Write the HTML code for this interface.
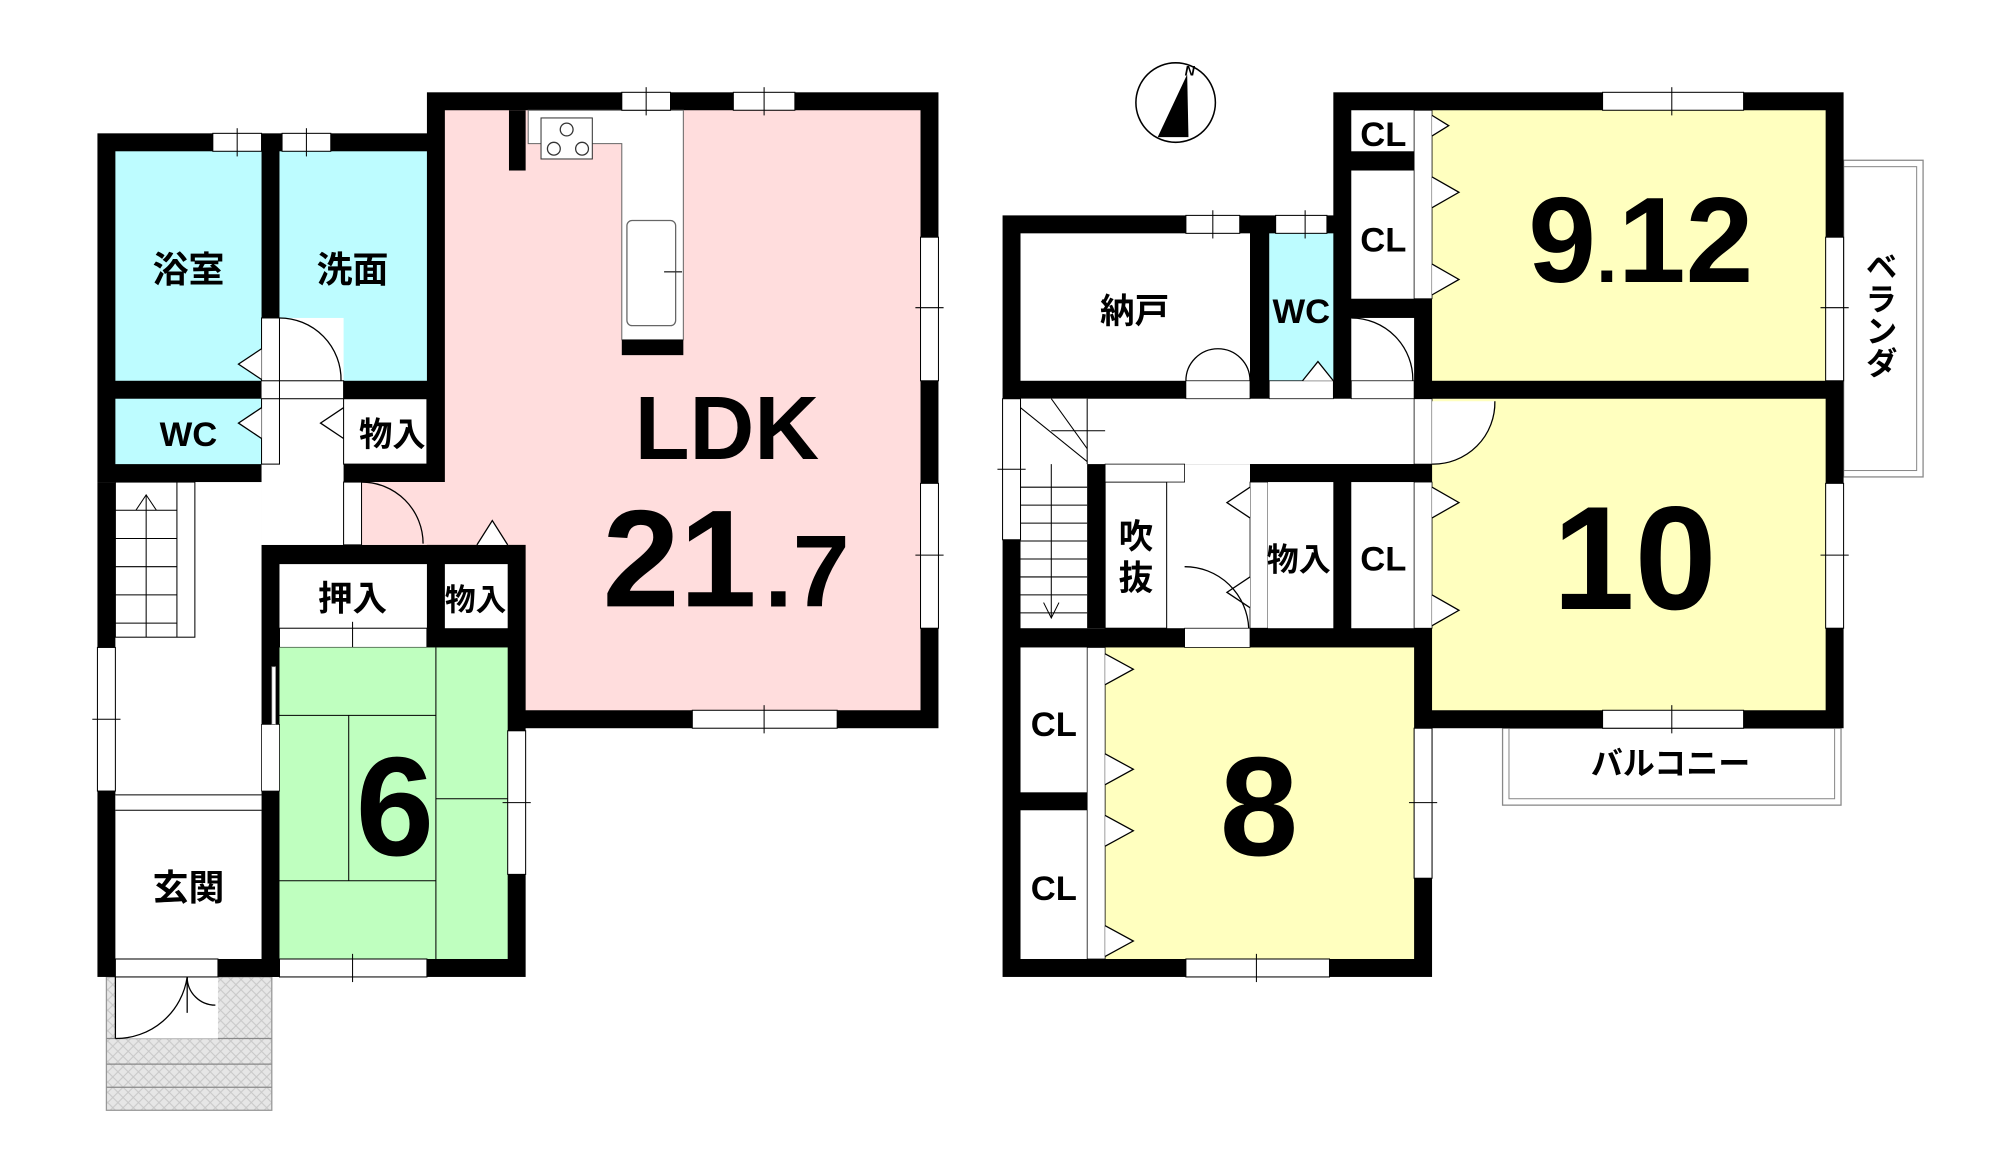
<!DOCTYPE html>
<html><head><meta charset="utf-8">
<style>
html,body{margin:0;padding:0;background:#fff;}
svg{display:block;}
text{font-family:"Liberation Sans","Noto Sans CJK JP",sans-serif;font-weight:bold;fill:#000;}
</style></head><body>
<svg width="2000" height="1159" viewBox="0 0 1560 904" preserveAspectRatio="none" xmlns="http://www.w3.org/2000/svg">
<defs>
<pattern id="hat" width="8" height="8" patternUnits="userSpaceOnUse">
<rect width="8" height="8" fill="#e6e6e6"/>
<path d="M0 0L8 8M8 0L0 8" stroke="#c8c8c8" stroke-width="0.8"/>
</pattern>
</defs>

<rect x="83" y="762" width="129" height="104" fill="url(#hat)" stroke="#999" stroke-width="1"/>
<line x1="83" y1="810" x2="212" y2="810" stroke="#888"/>
<line x1="83" y1="830" x2="212" y2="830" stroke="#888"/>
<line x1="83" y1="848" x2="212" y2="848" stroke="#888"/>
<rect x="90" y="762" width="80" height="48" fill="#fff"/>
<path d="M90 810 A56 56 0 0 0 146 762" fill="none" stroke="#000"/>
<line x1="90" y1="762" x2="90" y2="810" stroke="#000"/>
<path d="M146 762 A22 22 0 0 0 168 784" fill="none" stroke="#000"/>
<line x1="146" y1="762" x2="146" y2="790" stroke="#000"/>

<rect x="76" y="104" width="271" height="272" fill="#000"/>
<rect x="76" y="376" width="142" height="386" fill="#000"/>
<rect x="204" y="425" width="206" height="337" fill="#000"/>
<rect x="333" y="72" width="399" height="496" fill="#000"/>

<rect x="90" y="118" width="114" height="179" fill="#bdfcff"/>
<rect x="218" y="118" width="115" height="179" fill="#bdfcff"/>
<rect x="90" y="311" width="114" height="51" fill="#bdfcff"/>
<rect x="204" y="297" width="64" height="128" fill="#fff"/>
<rect x="218" y="248" width="50" height="49" fill="#fff"/>
<rect x="204" y="248" width="14" height="49" fill="#fff" stroke="#000" stroke-width="0.8"/>
<rect x="204" y="311" width="14" height="51" fill="#fff" stroke="#000" stroke-width="0.8"/>
<rect x="218" y="297" width="50" height="14" fill="#fff" stroke="#000" stroke-width="0.8"/>
<path d="M218 248 A48 48 0 0 1 266 297" fill="none" stroke="#000"/>
<path d="M204 272 L186 284 L204 296" fill="#fff" stroke="#000"/>
<path d="M204 318 L186 330 L204 342" fill="#fff" stroke="#000"/>
<path d="M268 318 L250 330 L268 342" fill="#fff" stroke="#000"/>
<rect x="268" y="311" width="65" height="51" fill="#fff" stroke="#000" stroke-width="0.8"/>
<rect x="90" y="376" width="114" height="256" fill="#fff"/>
<rect x="204" y="376" width="14" height="49" fill="#fff"/>
<rect x="90" y="376" width="62" height="121" fill="#fff" stroke="#000" stroke-width="0.8"/>
<line x1="138" y1="376" x2="138" y2="497" stroke="#000" stroke-width="0.8"/>
<g stroke="#000" stroke-width="0.8">
<line x1="90" y1="398" x2="138" y2="398"/><line x1="90" y1="420" x2="138" y2="420"/>
<line x1="90" y1="442" x2="138" y2="442"/><line x1="90" y1="464" x2="138" y2="464"/>
<line x1="90" y1="486" x2="138" y2="486"/>
<line x1="114" y1="386" x2="114" y2="497"/><path d="M106 398 L114 386 L122 398" fill="none"/>
</g>
<polygon points="347,86 718,86 718,554 410,554 410,425 282,425 282,376 347,376" fill="#ffdddd"/>
<rect x="268" y="376" width="14" height="49" fill="#fff" stroke="#000" stroke-width="0.8"/>
<path d="M282 376 A48 48 0 0 1 330 424" fill="none" stroke="#000"/>
<path d="M372 425 L384 406 L396 425" fill="#fff" stroke="#000"/>
<rect x="397" y="86" width="13" height="47" fill="#000"/>
<polygon points="412,86 533,86 533,265 485,265 485,112 412,112" fill="#fff" stroke="#666" stroke-width="0.8"/>
<rect x="422" y="92" width="40" height="32" fill="#fff" stroke="#333" stroke-width="0.8"/>
<circle cx="442" cy="101" r="5" fill="none" stroke="#333"/><circle cx="432" cy="116" r="5" fill="none" stroke="#333"/><circle cx="454" cy="116" r="5" fill="none" stroke="#333"/>
<rect x="489" y="172" width="38" height="82" rx="4" fill="#fff" stroke="#666"/>
<line x1="518" y1="212" x2="532" y2="212" stroke="#333"/>
<rect x="485" y="265" width="48" height="12" fill="#000"/>
<rect x="218" y="440" width="115" height="50" fill="#fff"/>
<rect x="218" y="490" width="115" height="15" fill="#fff" stroke="#000" stroke-width="0.8"/>
<line x1="275" y1="485" x2="275" y2="505" stroke="#000" stroke-width="0.8"/>
<rect x="347" y="440" width="49" height="50" fill="#fff"/>
<rect x="218" y="505" width="178" height="243" fill="#bfffbf"/>
<g stroke="#000" stroke-width="0.8" fill="none">
<line x1="340" y1="505" x2="340" y2="748"/>
<line x1="218" y1="558" x2="340" y2="558"/>
<line x1="272" y1="558" x2="272" y2="687"/>
<line x1="218" y1="687" x2="340" y2="687"/>
<line x1="340" y1="623" x2="396" y2="623"/>
</g>
<rect x="204" y="565" width="14" height="52" fill="#fff" stroke="#000" stroke-width="0.6"/>
<rect x="212" y="520" width="3" height="45" fill="#fff" stroke="#777" stroke-width="0.6"/>
<rect x="90" y="620" width="114" height="128" fill="#fff"/>
<line x1="90" y1="620" x2="204" y2="620" stroke="#000" stroke-width="0.8"/>
<line x1="90" y1="632" x2="204" y2="632" stroke="#000" stroke-width="0.8"/>
<g fill="#fff" stroke="#000" stroke-width="0.8">
<rect x="166" y="104" width="38" height="14"/><rect x="220" y="104" width="38" height="14"/>
<rect x="485" y="72" width="38" height="14"/><rect x="572" y="72" width="48" height="14"/>
<rect x="718" y="185" width="14" height="112"/><rect x="718" y="377" width="14" height="113"/>
<rect x="540" y="554" width="113" height="14"/>
<rect x="396" y="570" width="14" height="112"/>
<rect x="218" y="748" width="115" height="14"/>
<rect x="76" y="505" width="14" height="112"/>
<rect x="90" y="748" width="80" height="14"/>
</g>
<g stroke="#000" stroke-width="0.8">
<line x1="185" y1="100" x2="185" y2="122"/><line x1="239" y1="100" x2="239" y2="122"/>
<line x1="504" y1="68" x2="504" y2="90"/><line x1="596" y1="68" x2="596" y2="90"/>
<line x1="714" y1="240" x2="736" y2="240"/><line x1="714" y1="433" x2="736" y2="433"/>
<line x1="596" y1="550" x2="596" y2="572"/><line x1="392" y1="626" x2="414" y2="626"/>
<line x1="275" y1="744" x2="275" y2="766"/><line x1="72" y1="561" x2="94" y2="561"/>
</g>

<text x="147" y="220" font-size="28" text-anchor="middle">浴室</text>
<text x="275" y="220" font-size="28" text-anchor="middle">洗面</text>
<text x="147" y="348" font-size="27" text-anchor="middle">WC</text>
<text x="306" y="348" font-size="26" text-anchor="middle">物入</text>
<text x="275" y="476" font-size="27" text-anchor="middle">押入</text>
<text x="371" y="476" font-size="24" text-anchor="middle">物入</text>
<text x="147" y="702" font-size="28" text-anchor="middle">玄関</text>
<text x="567" y="358" font-size="70" text-anchor="middle">LDK</text>
<text x="470" y="473" font-size="108">21</text>
<text x="596" y="473" font-size="80">.7</text>
<text x="308" y="667" font-size="110" text-anchor="middle">6</text>

<circle cx="917" cy="80" r="31" fill="#fff" stroke="#000" stroke-width="1.2"/>
<polygon points="926,58 903,107 927,107" fill="#000"/>
<text x="924" y="59" font-size="11" font-style="italic" font-family="Liberation Serif" font-weight="normal">N</text>

<rect x="1438" y="125" width="62" height="247" fill="#fff" stroke="#888" stroke-width="1"/>
<rect x="1438" y="130" width="57" height="237" fill="none" stroke="#888" stroke-width="0.8"/>
<rect x="1172" y="568" width="264" height="60" fill="#fff" stroke="#888" stroke-width="1"/>
<rect x="1177" y="568" width="254" height="55" fill="none" stroke="#888" stroke-width="0.8"/>

<rect x="1040" y="72" width="398" height="496" fill="#000"/>
<rect x="782" y="168" width="335" height="594" fill="#000"/>

<rect x="796" y="182" width="179" height="115" fill="#fff"/>
<rect x="990" y="182" width="50" height="115" fill="#bdfcff"/>
<rect x="1117" y="86" width="307" height="211" fill="#ffffbf"/>
<polygon points="1117,311 1424,311 1424,554 1117,554" fill="#ffffbf"/>
<rect x="860" y="505" width="243" height="243" fill="#ffffbf"/>
<rect x="796" y="311" width="307" height="51" fill="#fff"/>
<rect x="848" y="362" width="127" height="128" fill="#fff"/>
<rect x="1103" y="311" width="14" height="51" fill="#fff" stroke="#000" stroke-width="0.6"/>
<path d="M1117 362 L1117 313 L1166 313 A48 48 0 0 1 1117 362 Z" fill="#fff" stroke="none"/>
<path d="M1117 362 A48 48 0 0 0 1166 313" fill="none" stroke="#000"/>
<rect x="796" y="311" width="52" height="179" fill="#fff"/>
<g stroke="#000" stroke-width="0.8" fill="none">
<line x1="848" y1="311" x2="848" y2="362"/>
<line x1="796" y1="318" x2="848" y2="360"/><line x1="820" y1="311" x2="848" y2="350"/>
<line x1="820" y1="336" x2="862" y2="336"/>
<line x1="796" y1="380" x2="848" y2="380"/><line x1="796" y1="394" x2="848" y2="394"/>
<line x1="796" y1="408" x2="848" y2="408"/><line x1="796" y1="422" x2="848" y2="422"/>
<line x1="796" y1="436" x2="848" y2="436"/><line x1="796" y1="450" x2="848" y2="450"/>
<line x1="796" y1="464" x2="848" y2="464"/><line x1="796" y1="478" x2="848" y2="478"/>
<line x1="820" y1="362" x2="820" y2="482"/><path d="M814 470 L820 482 L826 470"/>
</g>
<rect x="848" y="362" width="14" height="128" fill="#000"/>
<rect x="862" y="376" width="48" height="114" fill="#fff" stroke="#000" stroke-width="0.8"/>
<rect x="862" y="362" width="62" height="14" fill="#fff" stroke="#000" stroke-width="0.6"/>
<rect x="975" y="362" width="142" height="14" fill="#000"/>
<rect x="975" y="376" width="14" height="114" fill="#fff" stroke="#000" stroke-width="0.6"/>
<path d="M975 380 L957 392 L975 404 M975 450 L957 462 L975 474" fill="#fff" stroke="#000"/>
<path d="M924 442 A50 50 0 0 1 974 490" fill="none" stroke="#000"/>
<rect x="924" y="490" width="51" height="15" fill="#fff" stroke="#000" stroke-width="0.6"/>
<rect x="989" y="376" width="51" height="114" fill="#fff"/>
<rect x="1054" y="376" width="49" height="114" fill="#fff"/>
<rect x="1103" y="376" width="14" height="114" fill="#fff" stroke="#000" stroke-width="0.6"/>
<path d="M1117 380 L1138 392 L1117 404 M1117 464 L1138 476 L1117 488" fill="#fff" stroke="#000"/>
<rect x="925" y="297" width="50" height="14" fill="#fff" stroke="#000" stroke-width="0.6"/>
<path d="M925 297 A25 25 0 0 1 975 297" fill="none" stroke="#000"/>
<rect x="990" y="297" width="50" height="14" fill="#fff" stroke="#000" stroke-width="0.6"/>
<path d="M1016 297 L1028 282 L1040 297" fill="#fff" stroke="#000"/>
<rect x="1054" y="248" width="49" height="49" fill="#fff"/>
<rect x="1054" y="297" width="49" height="14" fill="#fff" stroke="#000" stroke-width="0.6"/>
<path d="M1054 248 A48 48 0 0 1 1102 297" fill="none" stroke="#000"/>
<rect x="1054" y="86" width="49" height="32" fill="#fff"/>
<rect x="1054" y="133" width="49" height="100" fill="#fff"/>
<rect x="1103" y="86" width="14" height="147" fill="#fff" stroke="#000" stroke-width="0.6"/>
<path d="M1117 90 L1130 98 L1117 106 M1117 138 L1138 150 L1117 162 M1117 206 L1138 218 L1117 230" fill="#fff" stroke="#000"/>
<rect x="796" y="505" width="52" height="113" fill="#fff"/>
<rect x="796" y="632" width="52" height="116" fill="#fff"/>
<rect x="848" y="505" width="14" height="243" fill="#fff" stroke="#000" stroke-width="0.6"/>
<path d="M862 510 L884 522 L862 534 M862 588 L884 600 L862 612 M862 636 L884 648 L862 660 M862 722 L884 734 L862 746" fill="#fff" stroke="#000"/>
<g fill="#fff" stroke="#000" stroke-width="0.8">
<rect x="1250" y="72" width="110" height="14"/>
<rect x="925" y="168" width="42" height="14"/><rect x="995" y="168" width="40" height="14"/>
<rect x="1424" y="185" width="14" height="112"/><rect x="1424" y="377" width="14" height="113"/>
<rect x="1250" y="554" width="110" height="14"/>
<rect x="1103" y="568" width="14" height="117"/>
<rect x="925" y="748" width="112" height="14"/>
<rect x="782" y="311" width="14" height="110"/>
</g>
<g stroke="#000" stroke-width="0.8">
<line x1="1304" y1="68" x2="1304" y2="90"/><line x1="946" y1="164" x2="946" y2="186"/><line x1="1018" y1="164" x2="1018" y2="186"/>
<line x1="1420" y1="240" x2="1442" y2="240"/><line x1="1420" y1="433" x2="1442" y2="433"/>
<line x1="1304" y1="550" x2="1304" y2="572"/><line x1="1099" y1="626" x2="1121" y2="626"/>
<line x1="980" y1="744" x2="980" y2="766"/><line x1="778" y1="366" x2="800" y2="366"/>
</g>

<text x="885" y="252" font-size="27" text-anchor="middle">納戸</text>
<text x="1015" y="252" font-size="27" text-anchor="middle">WC</text>
<text x="1079" y="114" font-size="27" text-anchor="middle">CL</text>
<text x="1079" y="196" font-size="27" text-anchor="middle">CL</text>
<text x="1079" y="445" font-size="27" text-anchor="middle">CL</text>
<text x="1013" y="445" font-size="25" text-anchor="middle">物入</text>
<text x="886" y="428" font-size="27" text-anchor="middle">吹</text>
<text x="886" y="460" font-size="27" text-anchor="middle">抜</text>
<text x="822" y="574" font-size="27" text-anchor="middle">CL</text>
<text x="822" y="702" font-size="27" text-anchor="middle">CL</text>
<text x="1303" y="604" font-size="25" text-anchor="middle">バルコニー</text>
<text x="1466" y="195" font-size="25" writing-mode="tb" text-anchor="start">ベランダ</text>
<text x="1192" y="220" font-size="95">9</text>
<text x="1245" y="220" font-size="60">.</text>
<text x="1262" y="220" font-size="95">12</text>
<text x="1275" y="475" font-size="115" text-anchor="middle">10</text>
<text x="982" y="667" font-size="110" text-anchor="middle">8</text>
</svg>
</body></html>
